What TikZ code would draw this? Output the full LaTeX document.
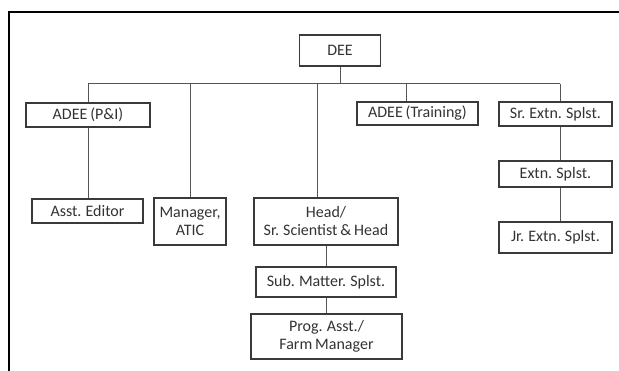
\documentclass[tikz,border=0pt]{standalone}
\usepackage{fontspec}
\setmainfont{Carlito}[WordSpace={0.8}]
\definecolor{txt}{HTML}{333333}
\definecolor{boxc}{HTML}{3A3A3A}
\definecolor{linec}{HTML}{555555}
\begin{document}
\begin{tikzpicture}[x=1pt,y=-1pt,
  box/.style={draw=boxc,line width=1.1pt,rectangle,inner sep=0pt,align=center,
    text=txt,font=\fontsize{16}{18}\selectfont},
  conn/.style={draw=linec,line width=1pt}]
\useasboundingbox (0,0) rectangle (619,371);
\fill[white] (0,0) rectangle (619,371);
\draw[line width=2.3pt,black] (9,372) -- (9,12) -- (620,12);
% nodes
\node[box,minimum width=81pt,minimum height=31pt] (dee) at (340,50.5) {DEE};
\node[box,minimum width=124pt,minimum height=24pt] (adeepi) at (88,115) {ADEE (P\&I)};
\node[box,minimum width=121pt,minimum height=23pt] (train) at (417.5,113.5) {ADEE (Training)};
\node[box,minimum width=113pt,minimum height=24pt] (sr) at (555.5,114) {Sr. Extn. Splst.};
\node[box,minimum width=111pt,minimum height=24pt] (asst) at (87.5,211) {Asst. Editor};
\node[box,minimum width=72pt,minimum height=47pt] (mgr) at (190,221.5) {Manager,\\ATIC};
\node[box,minimum width=144pt,minimum height=47pt] (head) at (326,221.5) {Head/\\Sr. Scientist \& Head};
\node[box,minimum width=113pt,minimum height=26pt] (ext) at (555.5,174) {Extn. Splst.};
\node[box,minimum width=113pt,minimum height=31pt] (jr) at (555.5,237.5) {Jr. Extn. Splst.};
\node[box,minimum width=140pt,minimum height=30pt] (sub) at (326,282) {Sub. Matter. Splst.};
\node[box,minimum width=151pt,minimum height=45pt] (prog) at (326.5,336.5) {Prog. Asst./\\Farm Manager};
% bus coordinates
\coordinate (bL) at (88,84);
\coordinate (bR) at (560,84);
\coordinate (bM) at (190,84);
\coordinate (bH) at (317,84);
\coordinate (bT) at (406,84);
% connectors
\draw[conn] (dee.south) -- (dee.south |- bL);
\draw[conn] (bL) -- (bR);
\draw[conn] (bL) -- (adeepi.north);
\draw[conn] (adeepi.south) -- (asst.north -| adeepi.south);
\draw[conn] (bM) -- (mgr.north);
\draw[conn] (bH) -- (bH |- head.north);
\draw[conn] (bT) -- (bT |- train.north);
\draw[conn] (bR) -- (bR |- sr.north);
\draw[conn] (sr.south -| bR) -- (ext.north -| bR);
\draw[conn] (ext.south -| bR) -- (jr.north -| bR);
\draw[conn] (head.south) -- (sub.north);
\draw[conn] (sub.south) -- (prog.north -| sub.south);
\end{tikzpicture}
\end{document}
